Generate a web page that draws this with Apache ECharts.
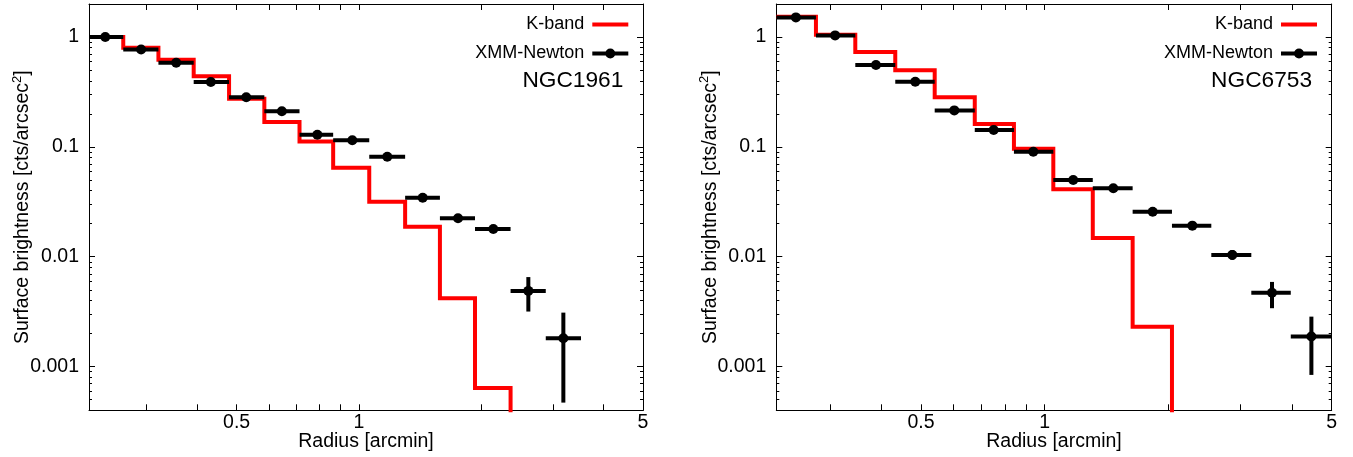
<!DOCTYPE html>
<html>
<head>
<meta charset="utf-8">
<script src="https://cdn.jsdelivr.net/npm/echarts@6/dist/echarts.min.js"></script>
<style>html,body{margin:0;padding:0;background:#fff;}#chart{width:1353px;height:457px;}</style>
</head>
<body>
<div id="chart"></div>
<script>
// ---------------- data ----------------
// Panel titles
const galaxies = ['NGC1961', 'NGC6753'];

// Radial bin edges [arcmin]
const binEdges1961 = [0.2166, 0.263, 0.321, 0.392, 0.479, 0.585, 0.714, 0.864, 1.060, 1.299, 1.582, 1.930, 2.361, 2.882, 3.519];
const binEdges6753 = [0.2222, 0.2775, 0.346, 0.4329, 0.540, 0.676, 0.842, 1.050, 1.310, 1.638, 2.042, 2.546, 3.186, 3.975, 5.0];

// K-band surface brightness per bin (profile falls to zero after the last bin)
const kband1961 = [1.0, 0.80, 0.62, 0.44, 0.274, 0.169, 0.112, 0.0646, 0.0317, 0.0188, 0.0042, 0.00064];
const kband6753 = [1.53, 1.05, 0.73, 0.50, 0.283, 0.162, 0.0964, 0.0411, 0.0148, 0.00231];
const kbandZero = 1e-7;

// XMM-Newton points: bin centre radius, brightness, lower / upper error
const xmmR1961 = [0.2375, 0.291, 0.355, 0.432, 0.528, 0.646, 0.790, 0.963, 1.174, 1.435, 1.753, 2.141, 2.611, 3.184];
const xmmY1961 = [1.0, 0.77, 0.584, 0.39, 0.283, 0.211, 0.129, 0.115, 0.0814, 0.0345, 0.0224, 0.0179, 0.00489, 0.00181];
const xmmLo1961 = [0.99, 0.76, 0.575, 0.383, 0.277, 0.206, 0.125, 0.111, 0.0785, 0.0330, 0.0212, 0.0167, 0.00317, 0.00047];
const xmmHi1961 = [1.01, 0.78, 0.593, 0.397, 0.289, 0.216, 0.133, 0.119, 0.0843, 0.0360, 0.0236, 0.0191, 0.00653, 0.0031];

const xmmR6753 = [0.248, 0.309, 0.3885, 0.4843, 0.6027, 0.7516, 0.9385, 1.174, 1.470, 1.833, 2.289, 2.864, 3.578, 4.462];
const xmmY6753 = [1.51, 1.036, 0.556, 0.392, 0.215, 0.1426, 0.0904, 0.050, 0.042, 0.0257, 0.0192, 0.0104, 0.00471, 0.00188];
const xmmLo6753 = [1.49, 1.02, 0.548, 0.386, 0.211, 0.139, 0.088, 0.0485, 0.0405, 0.0247, 0.0183, 0.0094, 0.0034, 0.00084];
const xmmHi6753 = [1.53, 1.05, 0.564, 0.398, 0.219, 0.146, 0.0928, 0.0515, 0.0435, 0.0267, 0.0201, 0.0115, 0.0059, 0.00285];

// Axes
const xRanges = [[0.2166, 5], [0.2222, 5]];
const yRange = [0.0004, 2];
const xTickValues = [0.3, 0.4, 0.5, 0.6, 0.7, 0.8, 0.9, 1, 2, 3, 4, 5];
const xLabelValues = [0.5, 1, 5];
const yMajorValues = [0.001, 0.01, 0.1, 1];
const yMinorValues = [0.0005, 0.0006, 0.0007, 0.0008, 0.0009,
  0.002, 0.003, 0.004, 0.005, 0.006, 0.007, 0.008, 0.009,
  0.02, 0.03, 0.04, 0.05, 0.06, 0.07, 0.08, 0.09,
  0.2, 0.3, 0.4, 0.5, 0.6, 0.7, 0.8, 0.9];

const xName = 'Radius [arcmin]';
const yNameRich = '{a|Surface brightness [cts/arcsec}{s|2}{a|]}';
const legendNames = ['K-band', 'XMM-Newton'];

// ---------------- build ----------------
const FONT = "'Liberation Sans', Arial, Helvetica, sans-serif";
const panels = [
  { edges: binEdges1961, kb: kband1961, r: xmmR1961, y: xmmY1961, lo: xmmLo1961, hi: xmmHi1961 },
  { edges: binEdges6753, kb: kband6753, r: xmmR6753, y: xmmY6753, lo: xmmLo6753, hi: xmmHi6753 }
];
const gridBoxes = [
  { left: 89, top: 4, width: 554, height: 406.3 },
  { left: 776.3, top: 4, width: 555.4, height: 406.3 }
];

function stepData(edges, vals) {
  const d = [];
  for (let i = 0; i < vals.length; i++) d.push([edges[i], vals[i]]);
  d.push([edges[vals.length], vals[vals.length - 1]]);
  d.push([edges[vals.length], kbandZero]);
  return d;
}
function xmmData(p) {
  return p.r.map((r, i) => [r, p.y[i], p.edges[i], p.edges[i + 1], p.lo[i], p.hi[i]]);
}
function renderXmm(params, api) {
  const c = api.coord([api.value(0), api.value(1)]);
  const l = api.coord([api.value(2), api.value(1)]);
  const r = api.coord([api.value(3), api.value(1)]);
  const b = api.coord([api.value(0), api.value(4)]);
  const t = api.coord([api.value(0), api.value(5)]);
  return {
    type: 'group',
    children: [
      { type: 'line', shape: { x1: l[0], y1: l[1], x2: r[0], y2: r[1] }, style: { stroke: '#000', lineWidth: 4 } },
      { type: 'line', shape: { x1: t[0], y1: t[1], x2: b[0], y2: b[1] }, style: { stroke: '#000', lineWidth: 4 } },
      { type: 'circle', shape: { cx: c[0], cy: c[1], r: 5 }, style: { fill: '#000' } }
    ]
  };
}

const txt = { color: '#000', fontFamily: FONT, fontSize: 19.5 };
const grid = [], xAxis = [], yAxis = [], series = [], legend = [], title = [];
const ICON_LINE = 'path://M0,0 L36,0 L36,4 L0,4 Z';
const ICON_PT = 'path://M0,3 L36,3 L36,7 L0,7 Z M23,5 A5,5 0 1 1 13,5 A5,5 0 1 1 23,5 Z';

panels.forEach((p, k) => {
  grid.push(Object.assign({ outerBoundsMode: 'none', containLabel: false }, gridBoxes[k]));
  const xr = xRanges[k];
  const baseX = { type: 'log', gridIndex: k, min: xr[0], max: xr[1], splitLine: { show: false },
    axisLine: { show: true, lineStyle: { color: '#000', width: 1 } } };
  xAxis.push(Object.assign({}, baseX, {
    position: 'bottom',
    axisTick: { show: true, inside: true, length: 6, customValues: xTickValues, lineStyle: { color: '#000', width: 1 } },
    axisLabel: { show: true, customValues: xLabelValues, margin: 2, formatter: v => String(v), ...txt },
    name: xName, nameLocation: 'middle', nameGap: 21, nameMoveOverlap: false, nameTextStyle: { ...txt }
  }));
  xAxis.push(Object.assign({}, baseX, {
    position: 'top',
    axisTick: { show: true, inside: true, length: 6, customValues: xTickValues, lineStyle: { color: '#000', width: 1 } },
    axisLabel: { show: false }
  }));
  const baseY = { type: 'log', gridIndex: k, min: yRange[0], max: yRange[1], splitLine: { show: false } };
  yAxis.push(Object.assign({}, baseY, {
    position: 'left',
    axisLine: { show: true, lineStyle: { color: '#000', width: 1 } },
    axisTick: { show: true, inside: true, length: 6, customValues: yMajorValues, lineStyle: { color: '#000', width: 1 } },
    axisLabel: { show: true, customValues: yMajorValues, margin: 10, formatter: v => String(v), ...txt },
    name: yNameRich, nameLocation: 'middle', nameGap: 54, nameMoveOverlap: false,
    nameTextStyle: { color: '#000', fontFamily: FONT,
      rich: { a: { fontSize: 19.5, lineHeight: 24, fontFamily: FONT, color: '#000' },
              s: { fontSize: 13, lineHeight: 20, verticalAlign: 'top', fontFamily: FONT, color: '#000' } } }
  }));
  yAxis.push(Object.assign({}, baseY, {
    position: 'left', axisLine: { show: false },
    axisTick: { show: true, inside: true, length: 3, customValues: yMinorValues, lineStyle: { color: '#000', width: 1 } },
    axisLabel: { show: false }
  }));
  yAxis.push(Object.assign({}, baseY, {
    position: 'right',
    axisLine: { show: true, lineStyle: { color: '#000', width: 1 } },
    axisTick: { show: true, inside: true, length: 6, customValues: yMajorValues, lineStyle: { color: '#000', width: 1 } },
    axisLabel: { show: false }
  }));
  yAxis.push(Object.assign({}, baseY, {
    position: 'right', axisLine: { show: false },
    axisTick: { show: true, inside: true, length: 3, customValues: yMinorValues, lineStyle: { color: '#000', width: 1 } },
    axisLabel: { show: false }
  }));

  series.push({
    name: legendNames[0], type: 'line', xAxisIndex: 2 * k, yAxisIndex: 4 * k,
    data: stepData(p.edges, p.kb), step: 'end', symbol: 'none', showSymbol: false,
    lineStyle: { color: '#ff0000', width: 4, cap: 'butt', join: 'miter' },
    itemStyle: { color: '#ff0000' }, clip: true, z: 2, silent: true
  });
  series.push({
    name: legendNames[1], type: 'custom', xAxisIndex: 2 * k, yAxisIndex: 4 * k,
    data: xmmData(p), renderItem: renderXmm, encode: { x: 0, y: 1 },
    itemStyle: { color: '#000' }, z: 3, silent: true
  });

  const gb = gridBoxes[k];
  const rightEdge = gb.left + gb.width;
  legend.push({
    data: [{ name: legendNames[0], icon: ICON_LINE }, { name: legendNames[1], icon: ICON_PT }],
    orient: 'vertical', align: 'right', right: 1353 - (rightEdge - 14.7), top: 14.5,
    itemWidth: 36, itemHeight: 10, itemGap: 9, padding: 0, selectedMode: false,
    itemStyle: { borderWidth: 0 },
    textStyle: { fontSize: 18, lineHeight: 20, fontFamily: FONT, color: '#000', padding: [0, 3, 0, 0] }
  });
  title.push({
    text: galaxies[k], right: 1353 - (rightEdge - 19.7), top: 68, padding: 0,
    textStyle: { fontSize: 22.7, lineHeight: 26, fontWeight: 'normal', fontFamily: FONT, color: '#000' }
  });
});

const chart = echarts.init(document.getElementById('chart'), null, { renderer: 'canvas' });
chart.setOption({
  backgroundColor: '#fff',
  animation: false,
  title, legend, grid, xAxis, yAxis, series
});
</script>
</body>
</html>
